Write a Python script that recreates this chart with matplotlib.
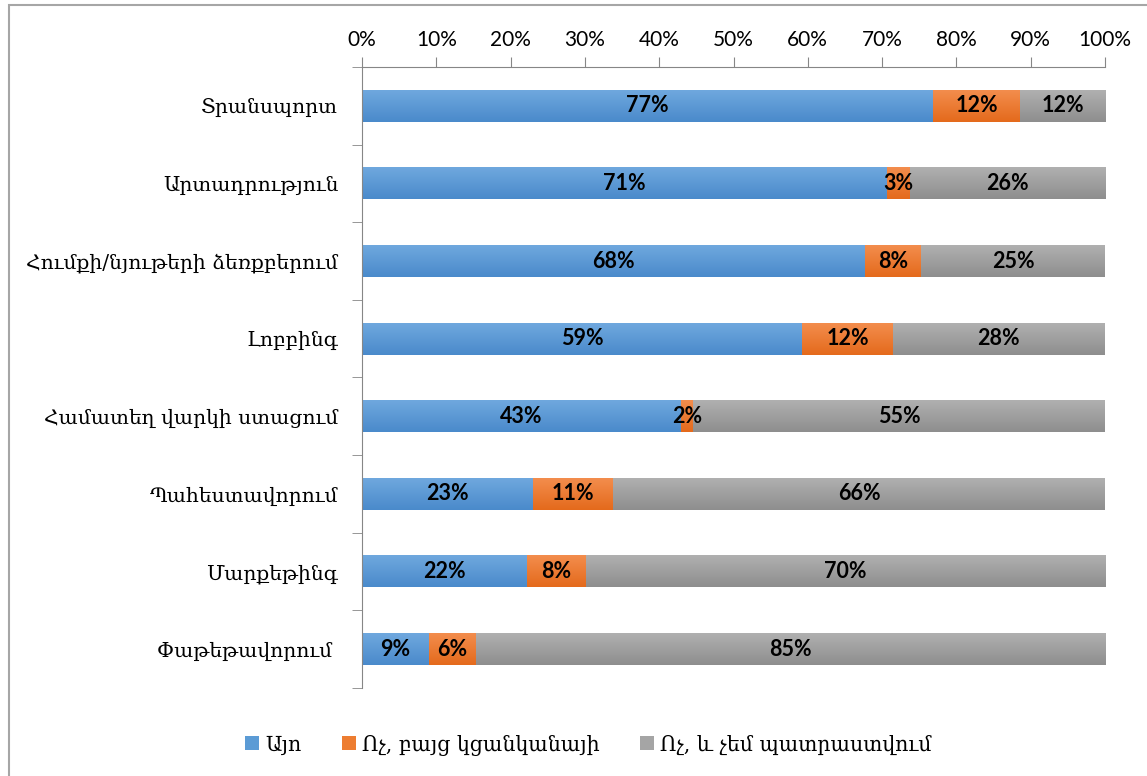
import matplotlib.pyplot as plt
import numpy as np
from matplotlib.colors import LinearSegmentedColormap
from matplotlib.patches import Rectangle

# Data: share of respondents (percent)
categories = ['Տրանսպորտ', 'Արտադրություն', 'Հումքի/նյութերի ձեռքբերում', 'Լոբբինգ',
              'Համատեղ վարկի ստացում', 'Պահեստավորում', 'Մարքեթինգ', 'Փաթեթավորում ']
yes = [76.9, 70.6, 67.7, 59.2, 42.9, 23.0, 22.2, 9.0]
no_but_want = [11.6, 3.1, 7.6, 12.3, 1.7, 10.8, 7.9, 6.3]
no_not_ready = [11.6, 26.3, 24.7, 28.4, 55.4, 66.2, 69.9, 84.7]
series_names = ['Այո', 'Ոչ, բայց կցանկանայի', 'Ոչ, և չեմ պատրաստվում']
series_labels = [['77%', '71%', '68%', '59%', '43%', '23%', '22%', '9%'],
                 ['12%', '3%', '8%', '12%', '2%', '11%', '8%', '6%'],
                 ['12%', '26%', '25%', '28%', '55%', '66%', '70%', '85%']]
colors = ['#5B9BD5', '#ED7D31', '#A5A5A5']
# top / bottom shades for the Excel-like vertical gradient
grad = [('#6FA8DE', '#4A8ACB'), ('#F38D4D', '#E46A1C'), ('#B0B0B0', '#8E8E8E')]

arm_font = ['DejaVu Serif', 'DejaVu Sans']
num_font = ['Lato', 'DejaVu Sans']

fig = plt.figure(figsize=(11.47, 7.76), dpi=100)
ax = fig.add_axes([362 / 1147, 1 - 688 / 776, 743 / 1147, 621 / 776])

y = np.arange(len(categories))
left = np.zeros(len(categories))
ramp = np.linspace(0, 1, 64).reshape(-1, 1)
for vals, name, col, labs, (c_top, c_bot) in zip([yes, no_but_want, no_not_ready], series_names,
                                                  colors, series_labels, grad):
    vals = np.array(vals)
    bars = ax.barh(y, vals, left=left, height=0.41, color=col, label=name)
    cmap = LinearSegmentedColormap.from_list('g', [c_top, c_bot])
    for b, lab in zip(bars, labs):
        x0, y0, w, h = b.get_x(), b.get_y(), b.get_width(), b.get_height()
        ax.imshow(ramp, cmap=cmap, extent=[x0, x0 + w, y0 + h, y0], aspect='auto',
                  interpolation='bilinear', zorder=b.get_zorder() + 0.1)
        ax.text(x0 + w / 2, y0 + h / 2, lab, ha='center', va='center', fontsize=15.5,
                fontweight='bold', family=num_font, zorder=5)
    left = left + vals

ax.set_xlim(0, 100)
ax.set_ylim(len(categories) - 0.5, -0.5)
ax.set_aspect('auto')
ax.xaxis.tick_top()
ax.set_xticks(np.arange(0, 101, 10))
ax.set_xticklabels([f'{t}%' for t in range(0, 101, 10)], family=num_font, fontsize=15)
ax.set_yticks(y)
ax.set_yticklabels(categories, family=arm_font, fontsize=14.6)
ax.set_yticks(np.arange(-0.5, len(categories)), minor=True)
ax.tick_params(axis='y', which='major', length=0, pad=17)
ax.tick_params(axis='y', which='minor', length=7, color='#868686')
ax.tick_params(axis='x', length=7, color='#868686', pad=5)
for s in ['right', 'bottom']:
    ax.spines[s].set_visible(False)
for s in ['left', 'top']:
    ax.spines[s].set_color('#868686')

leg = fig.legend(loc='center', bbox_to_anchor=(0.513, 1 - 745 / 776), ncol=3, frameon=False,
                 prop={'family': arm_font, 'size': 14.8}, handlelength=0.65, handleheight=0.65,
                 handletextpad=0.3, columnspacing=2.0)

# outer chart frame
fig.patches.append(Rectangle((8.5 / 1147, -0.1), 1.2, 1 - 5.5 / 776 + 0.1, transform=fig.transFigure,
                             fill=False, edgecolor='#A6A6A6', linewidth=1.5))

fig.savefig('out.png', dpi=100)
